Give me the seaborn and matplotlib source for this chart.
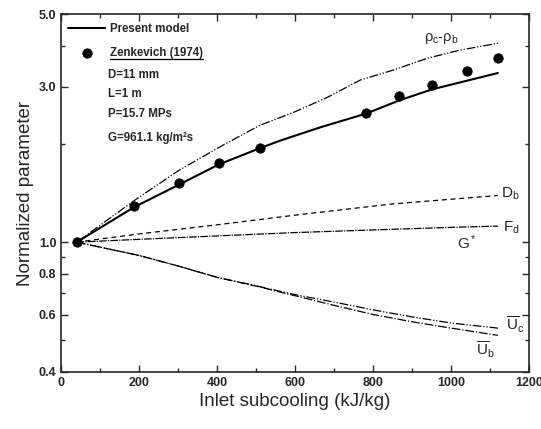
import numpy as np
import pandas as pd
import matplotlib
matplotlib.use("Agg")
import matplotlib.pyplot as plt
import seaborn as sns
from matplotlib.ticker import FixedLocator, NullFormatter
from matplotlib.lines import Line2D

# Zenkevich (1974) data
x_exp = [40, 187, 302, 404, 509, 783, 867, 951, 1041, 1120]
y_exp = [1.00, 1.29, 1.52, 1.75, 1.94, 2.48, 2.80, 3.03, 3.34, 3.66]

# present model (solid)
x_mod = [40, 187, 302, 404, 509, 563, 665, 783, 867, 951, 1120]
y_mod = [1.00, 1.28, 1.50, 1.73, 1.94, 2.05, 2.25, 2.48, 2.72, 2.94, 3.30]

# rho_c - rho_b
x_rho = [40, 187, 302, 404, 509, 596, 683, 767, 852, 938, 1023, 1120]
y_rho = [1.00, 1.34, 1.66, 1.95, 2.28, 2.50, 2.78, 3.14, 3.37, 3.66, 3.88, 4.07]

# D_b
x_db = [40, 200, 400, 600, 850, 1120]
y_db = [1.00, 1.06, 1.13, 1.21, 1.31, 1.39]

# F_d
x_fd = [40, 200, 400, 600, 800, 1000, 1120]
y_fd = [1.00, 1.02, 1.045, 1.07, 1.09, 1.11, 1.12]

# U_c, U_b
x_u = [40, 200, 300, 400, 500, 600, 700, 800, 900, 1000, 1120]
y_uc = [1.00, 0.91, 0.845, 0.78, 0.735, 0.69, 0.655, 0.62, 0.59, 0.565, 0.545]
y_ub = [1.00, 0.91, 0.845, 0.78, 0.733, 0.685, 0.64, 0.60, 0.57, 0.545, 0.518]

y_major = [0.4, 0.6, 0.8, 1.0, 3.0, 5.0]
y_minor = [0.5, 0.7, 0.9, 2.0, 4.0]

params = ["D=11 mm", "L=1 m", "P=15.7 MPs", "G=961.1 kg/m²s"]

sns.set_style("ticks")
plt.rcParams['font.family'] = ['Liberation Sans', 'DejaVu Sans']
plt.rcParams['mathtext.fontset'] = 'custom'
plt.rcParams['mathtext.rm'] = 'Liberation Sans'
plt.rcParams['mathtext.it'] = 'Liberation Sans'

fig = plt.figure(figsize=(5.41, 4.29), dpi=100)
ax = fig.add_axes([0.113, 0.133, 0.865, 0.834])

sns.lineplot(x=x_mod, y=y_mod, ax=ax, color='black', lw=1.5, label='Present model')
sns.scatterplot(x=x_exp, y=y_exp, ax=ax, color='black', s=46, edgecolor='black',
                label='Zenkevich (1974)', zorder=5)
sns.lineplot(x=x_rho, y=y_rho, ax=ax, color='black', lw=0.9, linestyle=(0, (7, 1.5, 1, 1.5, 1, 1.5)))
sns.lineplot(x=x_db, y=y_db, ax=ax, color='black', lw=0.9, linestyle=(0, (4, 3)))
sns.lineplot(x=x_fd, y=y_fd, ax=ax, color='black', lw=0.9, linestyle=(0, (6, 1, 1, 1)))
sns.lineplot(x=x_u, y=y_uc, ax=ax, color='black', lw=0.9, linestyle=(0, (7, 1.5, 1, 1.5, 1, 1.5)))
sns.lineplot(x=x_u, y=y_ub, ax=ax, color='black', lw=0.9, linestyle=(0, (7, 1.5, 1, 1.5)))

ax.set_yscale('log')
ax.set_xlim(0, 1200)
ax.set_ylim(0.4, 5.0)
ax.set_xticks(range(0, 1201, 200))
ax.set_xticks(range(100, 1200, 200), minor=True)
ax.yaxis.set_major_locator(FixedLocator(y_major))
ax.yaxis.set_minor_locator(FixedLocator(y_minor))
ax.yaxis.set_minor_formatter(NullFormatter())
ax.set_yticklabels([f"{v:.1f}" for v in y_major])
ax.tick_params(which='both', direction='in', top=True, right=True, width=1,
               labelsize=9)
ax.tick_params(which='major', length=5)
ax.tick_params(which='minor', length=3)
for lab in ax.get_xticklabels() + ax.get_yticklabels():
    lab.set_fontweight('bold')
for sp in ax.spines.values():
    sp.set_linewidth(1.2)
    sp.set_visible(True)

ax.set_xlabel('Inlet subcooling (kJ/kg)', fontsize=13.5, labelpad=3)
ax.set_ylabel('Normalized parameter', fontsize=13.5, labelpad=3)

leg = ax.legend(loc='upper left', bbox_to_anchor=(0.015, 0.975), frameon=False,
                prop={'weight': 'bold', 'size': 8.3},
                handlelength=3.2, handletextpad=0.4, labelspacing=1.0,
                borderpad=0, borderaxespad=0)

for i, t in enumerate(params):
    ax.text(0.100, [0.830, 0.777, 0.721, 0.654][i], t, transform=ax.transAxes,
            fontsize=8.3, fontweight='bold', va='center', ha='left')

# curve labels
ax.text(975, 4.2, r'$\rho_c$-$\rho_b$', fontsize=10.5, ha='center', va='center')
ax.text(1127, 1.41, r'D$_b$', fontsize=11, ha='left', va='center')
ax.text(1133, 1.11, r'F$_d$', fontsize=11, ha='left', va='center')
ax.text(1041, 0.995, r'G$^*$', fontsize=11, ha='center', va='center')
ax.text(1141, 0.556, r'$\overline{\mathrm{U}}_c$', fontsize=11, ha='left', va='center')
ax.text(1087, 0.468, r'$\overline{\mathrm{U}}_b$', fontsize=11, ha='center', va='center')

# underline the data source entry
fig.canvas.draw()
bb = leg.get_texts()[1].get_window_extent()
W, H = fig.get_size_inches() * fig.dpi
fig.add_artist(Line2D([bb.x0 / W, bb.x1 / W], [(bb.y0 - 0.5) / H] * 2,
                      color='black', lw=0.9, transform=fig.transFigure))

fig.savefig('out.png', dpi=100)
